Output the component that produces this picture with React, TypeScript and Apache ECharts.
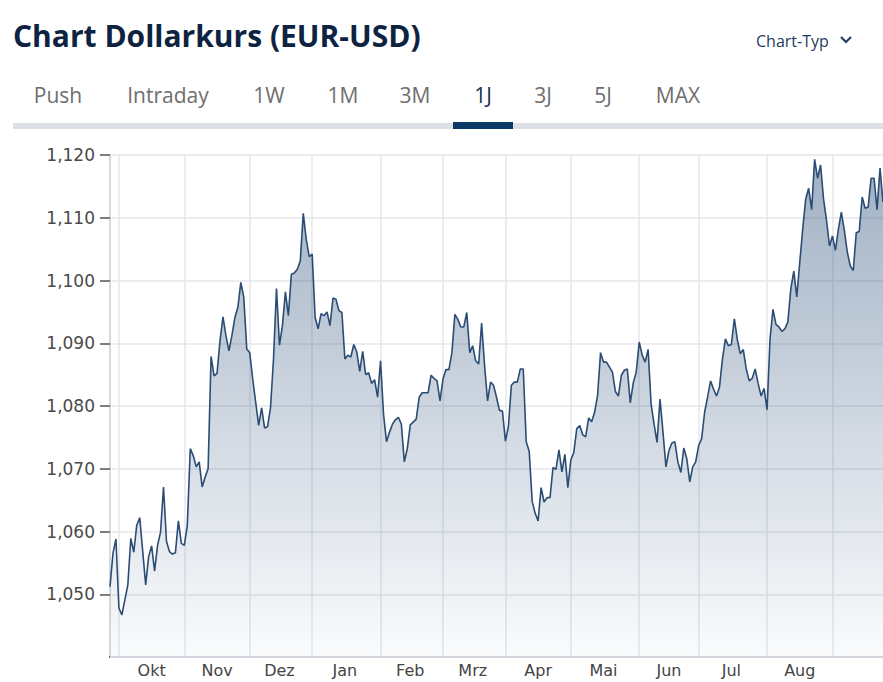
import React, { useEffect, useRef } from 'react';
import * as echarts from 'echarts';

// ---- data -------------------------------------------------------------
const titleText = 'Chart Dollarkurs (EUR-USD)';
const chartTypeLabel = 'Chart-Typ';
const tabLabels = ['Push', 'Intraday', '1W', '1M', '3M', '1J', '3J', '5J', 'MAX'];
const activeTab = '1J';
const monthNames = ['Jan', 'Feb', 'Mrz', 'Apr', 'Mai', 'Jun', 'Jul', 'Aug', 'Sep', 'Okt', 'Nov', 'Dez'];
const firstTradingDay = '2023-09-27';
const tradingDayCount = 261;
const yTickValues = [1.05, 1.06, 1.07, 1.08, 1.09, 1.1, 1.11, 1.12];

// trading-day index of each point
const pointDay = [
  0, 1, 2, 3, 4, 6, 7, 8, 9, 10, 12, 13, 14, 15, 16, 17, 18, 19, 20, 21, 22, 23, 24, 25, 26, 27, 28, 29, 30,
  31, 32, 33, 34, 35, 36, 37, 38, 39, 40, 41, 42, 43, 44, 45, 46, 47, 48, 49, 50, 51, 52, 53, 54, 55, 56, 57,
  58, 59, 60, 61, 62, 63, 64, 65, 66, 67, 68, 69, 70, 71, 72, 73, 74, 75, 76, 77, 78, 79, 80, 81, 82, 83, 84,
  85, 86, 87, 88, 89, 90, 91, 92, 93, 94, 95, 96, 97, 98, 99, 100, 101, 103, 104, 105, 107, 108, 109, 110,
  111, 112, 113, 114, 115, 116, 117, 118, 119, 120, 121, 122, 123, 124, 125, 126, 127, 128, 129, 130, 131,
  132, 133, 134, 135, 136, 137, 138, 139, 140, 141, 142, 143, 144, 145, 146, 147, 148, 149, 150, 151, 152,
  153, 154, 155, 156, 157, 158, 159, 160, 161, 162, 163, 164, 165, 166, 167, 168, 169, 170, 171, 172, 173,
  174, 175, 176, 177, 178, 179, 180, 181, 182, 183, 184, 185, 186, 187, 188, 189, 190, 191, 192, 193, 194,
  195, 196, 197, 198, 199, 200, 201, 202, 203, 204, 205, 206, 207, 208, 209, 210, 211, 212, 213, 214, 215,
  216, 217, 218, 219, 220, 221, 222, 223, 224, 225, 226, 227, 228, 229, 230, 231, 232, 233, 234, 235, 236,
  237, 238, 239, 240, 241, 242, 243, 244, 245, 246, 247, 248, 249, 250, 251, 252, 253, 254, 255, 256, 257,
  258, 259, 260,
];

// EUR-USD rate at each of those trading days
const pointRate = [
  1.0512, 1.0565, 1.0588, 1.0478, 1.0467, 1.0515, 1.0589, 1.0567, 1.061, 1.0622, 1.0515, 1.056, 1.0577,
  1.0537, 1.0578, 1.0599, 1.0671, 1.0584, 1.0568, 1.0564, 1.0566, 1.0617, 1.0581, 1.0578, 1.061, 1.0732,
  1.0721, 1.0703, 1.0711, 1.0671, 1.0687, 1.07, 1.0879, 1.0848, 1.0852, 1.0904, 1.0942, 1.0912, 1.0888,
  1.0912, 1.0941, 1.0957, 1.0997, 1.0973, 1.0891, 1.0885, 1.0843, 1.0806, 1.0769, 1.0797, 1.0765, 1.0767,
  1.0798, 1.0875, 1.0987, 1.0897, 1.0928, 1.0982, 1.0944, 1.101, 1.1012, 1.1018, 1.1031, 1.1107, 1.1066,
  1.1038, 1.1042, 1.0941, 1.0923, 1.0947, 1.0944, 1.095, 1.0928, 1.0972, 1.097, 1.0952, 1.0949, 1.0875,
  1.0881, 1.0878, 1.0898, 1.0886, 1.0855, 1.0887, 1.085, 1.0853, 1.0836, 1.0842, 1.0814, 1.0872, 1.0787,
  1.0743, 1.0758, 1.0771, 1.0778, 1.0782, 1.0771, 1.0711, 1.0732, 1.077, 1.0779, 1.0814, 1.0821, 1.0821,
  1.0849, 1.0844, 1.084, 1.0808, 1.0843, 1.0858, 1.0858, 1.0885, 1.0946, 1.0938, 1.0926, 1.0926, 1.0949,
  1.0885, 1.0896, 1.0872, 1.0867, 1.0932, 1.0864, 1.0808, 1.0838, 1.0833, 1.0814, 1.0793, 1.0792, 1.0744,
  1.0767, 1.0833, 1.0838, 1.0838, 1.0859, 1.0859, 1.0743, 1.0728, 1.0648, 1.0629, 1.0617, 1.067, 1.0647,
  1.0654, 1.0654, 1.0702, 1.0699, 1.073, 1.0695, 1.0723, 1.067, 1.0714, 1.0726, 1.0764, 1.0769, 1.0754,
  1.0751, 1.0781, 1.0775, 1.079, 1.0817, 1.0885, 1.087, 1.087, 1.0862, 1.0854, 1.0823, 1.0816, 1.0849,
  1.0857, 1.0859, 1.0805, 1.0837, 1.0854, 1.0902, 1.0881, 1.087, 1.089, 1.0803, 1.0771, 1.0742, 1.0811,
  1.0758, 1.0703, 1.0729, 1.0741, 1.0743, 1.0711, 1.0694, 1.0733, 1.0716, 1.0679, 1.0703, 1.0711, 1.0737,
  1.0748, 1.079, 1.0814, 1.084, 1.0827, 1.0816, 1.083, 1.0875, 1.0907, 1.0896, 1.0898, 1.0939, 1.0906,
  1.0883, 1.089, 1.0859, 1.084, 1.0844, 1.0859, 1.0836, 1.0816, 1.0828, 1.0794, 1.0907, 1.0954, 1.093,
  1.0926, 1.0919, 1.0923, 1.0934, 1.0987, 1.1015, 1.0974, 1.1029, 1.1082, 1.113, 1.1147, 1.1113, 1.1193,
  1.1163, 1.1184, 1.113, 1.1096, 1.1055, 1.1071, 1.1048, 1.1082, 1.1109, 1.108, 1.1045, 1.1023, 1.1016,
  1.1076, 1.1078, 1.1133, 1.1115, 1.1117, 1.1163, 1.1163, 1.1113, 1.1179, 1.1125,
];

// ---- helpers ----------------------------------------------------------
function buildTradingDays(start: string, count: number): string[] {
  const out: string[] = [];
  const d = new Date(start + 'T12:00:00Z');
  while (out.length < count) {
    const wd = d.getUTCDay();
    if (wd !== 0 && wd !== 6) out.push(d.toISOString().slice(0, 10));
    d.setUTCDate(d.getUTCDate() + 1);
  }
  return out;
}

// layout (pixels)
const W = 883;
const H = 682;
const GRID_LEFT = 110;
const GRID_BOTTOM = 25;
const tabCenters = [58, 168, 269, 343, 415, 483, 543, 603, 678];

export default function App() {
  const ref = useRef<HTMLDivElement>(null);

  useEffect(() => {
    document.body.style.margin = '0';
    if (!ref.current) return;
    const chart = echarts.init(ref.current, undefined, { renderer: 'svg' });

    const days = buildTradingDays(firstTradingDay, tradingDayCount);
    const monthStarts: number[] = [];
    for (let i = 1; i < days.length; i++) {
      if (days[i].slice(5, 7) !== days[i - 1].slice(5, 7)) monthStarts.push(i);
    }
    const startSet = new Set(monthStarts);
    const labelSet = new Set<number>();
    for (let k = 0; k < monthStarts.length - 1; k++) {
      labelSet.add(Math.floor((monthStarts[k] + monthStarts[k + 1]) / 2));
    }

    const seriesData = pointDay.map((d, i) => [d, pointRate[i]]);

    const navy = '#0d2341';
    const tabElems: any[] = tabLabels.map((t, i) => ({
      type: 'text',
      x: tabCenters[i],
      y: 95,
      style: {
        text: t,
        font: '21px "Open Sans"',
        fill: t === activeTab ? '#1b2f4d' : '#6e6e6e',
        align: 'center',
        verticalAlign: 'middle',
      },
    }));
    const activeIdx = tabLabels.indexOf(activeTab);

    const option: any = {
      animation: false,
      backgroundColor: '#ffffff',
      grid: { left: GRID_LEFT, right: 0, top: 155, bottom: GRID_BOTTOM, containLabel: false },
      graphic: [
        {
          type: 'text',
          x: 13,
          y: 35,
          style: { text: titleText, font: 'bold 30px "Open Sans"', fill: navy, verticalAlign: 'middle' },
        },
        {
          type: 'text',
          x: 756,
          y: 41,
          style: { text: chartTypeLabel, font: '16px "Open Sans"', fill: '#1f3a5f', verticalAlign: 'middle' },
        },
        {
          type: 'polyline',
          shape: { points: [[841, 37], [846, 42], [851, 37]] },
          style: { stroke: '#1f3a5f', lineWidth: 2, fill: null },
        },
        ...tabElems,
        {
          type: 'rect',
          shape: { x: 13, y: 123, width: W - 13, height: 6 },
          style: { fill: '#dde0e5' },
        },
        {
          type: 'rect',
          shape: { x: tabCenters[activeIdx] - 30, y: 122, width: 60, height: 7 },
          style: { fill: '#0c3866' },
        },
        {
          // hides the tick at the axis minimum (not shown in the original)
          type: 'rect',
          z: 100,
          shape: { x: GRID_LEFT - 12, y: H - GRID_BOTTOM - 2, width: 11, height: 4 },
          style: { fill: '#ffffff' },
        },
      ],
      xAxis: {
        type: 'category',
        data: days,
        boundaryGap: false,
        axisLine: { show: true, lineStyle: { color: '#c9ced5', width: 1.5 } },
        axisTick: { show: false },
        axisLabel: {
          interval: (i: number) => labelSet.has(i),
          formatter: (v: string) => monthNames[parseInt(v.slice(5, 7), 10) - 1],
          color: '#444444',
          fontFamily: 'DejaVu Sans',
          fontSize: 16,
          margin: 5,
        },
        splitLine: {
          show: true,
          interval: (i: number) => startSet.has(i),
          lineStyle: { color: '#e4e7eb', width: 1.5 },
        },
      },
      yAxis: {
        type: 'value',
        min: 1.04,
        max: 1.12,
        interval: 0.01,
        axisLine: { show: true, lineStyle: { color: '#c9ced5', width: 1.5 } },
        axisTick: {
          show: true,
          length: 10,
          lineStyle: { color: '#555555', width: 1.5 },
        },
        axisLabel: {
          customValues: yTickValues,
          formatter: (v: number) => v.toFixed(3).replace('.', ','),
          color: '#4a4a4a',
          fontFamily: 'DejaVu Sans',
          fontSize: 17,
          margin: 15,
        },
        splitLine: { show: true, lineStyle: { color: '#e4e7eb', width: 1.5 } },
      },
      series: [
        {
          type: 'line',
          data: seriesData,
          showSymbol: false,
          symbol: 'none',
          lineStyle: { color: '#2b4c74', width: 1.6 },
          areaStyle: {
            color: new echarts.graphic.LinearGradient(0, 0, 0, 1, [
              { offset: 0, color: 'rgba(44,80,122,0.64)' },
              { offset: 1, color: 'rgba(44,80,122,0.03)' },
            ]),
          },
        },
      ],
    };

    chart.setOption(option);
    return () => chart.dispose();
  }, []);

  return <div ref={ref} style={{ width: W, height: H }} />;
}
